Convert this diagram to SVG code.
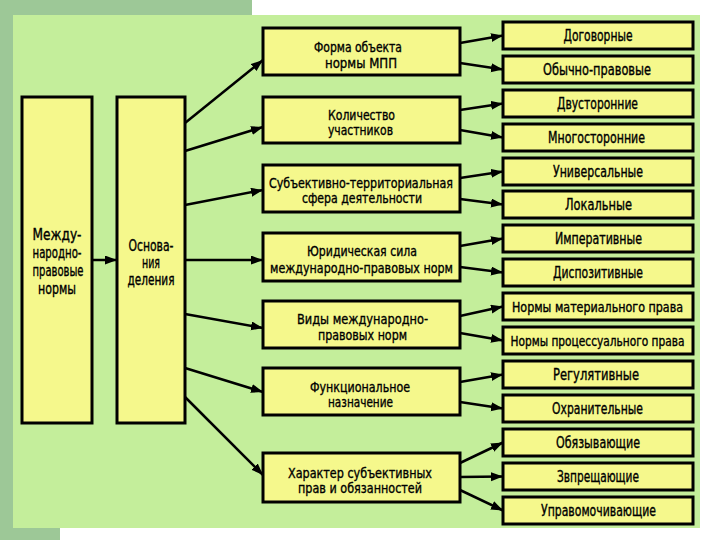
<svg xmlns="http://www.w3.org/2000/svg" width="720" height="540" viewBox="0 0 720 540">
<defs>
<marker id="ah" markerUnits="userSpaceOnUse" markerWidth="13" markerHeight="10" refX="12" refY="4.5" orient="auto">
<path d="M0,0 L12,4.5 L0,9 z" fill="#000"/>
</marker>
<style>
.box{fill:#f5f88c;stroke:#000;stroke-width:3}
.t{font-family:"DejaVu Sans Condensed","Liberation Sans Narrow","Liberation Sans",sans-serif;font-size:15px;fill:#000;stroke:#000;stroke-width:0.35;text-anchor:middle}
.tm{font-size:14.5px}
.tl{font-size:15px}
.ts{font-size:13.5px}
.c line{stroke:#000;stroke-width:2.5;marker-end:url(#ah)}
</style>
</defs>
<rect x="0" y="0" width="720" height="540" fill="#ffffff"/>
<rect x="0" y="0" width="252" height="15" fill="#9dc897"/>
<rect x="0" y="0" width="13" height="540" fill="#9dc897"/>
<rect x="0" y="528" width="60" height="12" fill="#9dc897"/>
<rect x="13" y="15" width="687" height="513" fill="#c4ee9b"/>

<g class="c">
<line x1="92" y1="260" x2="117" y2="260"/>
<line x1="185" y1="123" x2="263" y2="60"/>
<line x1="185" y1="151" x2="263" y2="127"/>
<line x1="185" y1="205" x2="263" y2="190"/>
<line x1="185" y1="260" x2="263" y2="260"/>
<line x1="185" y1="314" x2="263" y2="328"/>
<line x1="185" y1="368" x2="263" y2="392"/>
<line x1="185" y1="397" x2="263" y2="475"/>
<line x1="460" y1="43" x2="503" y2="35.5"/>
<line x1="460" y1="63" x2="503" y2="69.5"/>
<line x1="460" y1="110" x2="503" y2="103.5"/>
<line x1="460" y1="130" x2="503" y2="137.5"/>
<line x1="460" y1="178" x2="503" y2="171.5"/>
<line x1="460" y1="199" x2="503" y2="204.5"/>
<line x1="460" y1="246" x2="503" y2="238.5"/>
<line x1="460" y1="267" x2="503" y2="272.5"/>
<line x1="460" y1="316" x2="503" y2="306.5"/>
<line x1="460" y1="333" x2="503" y2="340.5"/>
<line x1="460" y1="382" x2="503" y2="374.5"/>
<line x1="460" y1="402" x2="503" y2="408.5"/>
<line x1="460" y1="463" x2="503" y2="442.5"/>
<line x1="460" y1="477" x2="503" y2="476.5"/>
<line x1="460" y1="490" x2="503" y2="510.5"/>
</g>

<g id="n-root">
<rect class="box" x="22" y="97" width="70" height="326"/>
<text class="t tl" x="57" y="240" textLength="49" lengthAdjust="spacingAndGlyphs">Между-</text>
<text class="t tl" x="57" y="258" textLength="49" lengthAdjust="spacingAndGlyphs">народно-</text>
<text class="t tl" x="58" y="276" textLength="51" lengthAdjust="spacingAndGlyphs">правовые</text>
<text class="t tl" x="57" y="294" textLength="38" lengthAdjust="spacingAndGlyphs">нормы</text>
</g>
<g id="n-base">
<rect class="box" x="117" y="97" width="68" height="326"/>
<text class="t tl" x="151" y="251" textLength="45" lengthAdjust="spacingAndGlyphs">Основа-</text>
<text class="t tl" x="151" y="268" textLength="18" lengthAdjust="spacingAndGlyphs">ния</text>
<text class="t tl" x="151" y="285" textLength="47" lengthAdjust="spacingAndGlyphs">деления</text>
</g>

<g id="m1">
<rect class="box" x="263" y="28" width="197" height="47"/>
<text class="t tm" x="358" y="52" textLength="88" lengthAdjust="spacingAndGlyphs">Форма объекта</text>
<text class="t tm" x="361" y="68" textLength="72" lengthAdjust="spacingAndGlyphs">нормы МПП</text>
</g>
<g id="m2">
<rect class="box" x="263" y="97" width="197" height="46"/>
<text class="t tm" x="361.5" y="120" textLength="67" lengthAdjust="spacingAndGlyphs">Количество</text>
<text class="t tm" x="360.5" y="135" textLength="65" lengthAdjust="spacingAndGlyphs">участников</text>
</g>
<g id="m3">
<rect class="box" x="263" y="165" width="197" height="47"/>
<text class="t tm" x="361" y="188" textLength="184" lengthAdjust="spacingAndGlyphs">Субъективно-территориальная</text>
<text class="t tm" x="362" y="203" textLength="120" lengthAdjust="spacingAndGlyphs">сфера деятельности</text>
</g>
<g id="m4">
<rect class="box" x="263" y="233" width="197" height="48"/>
<text class="t tm" x="362" y="256" textLength="110" lengthAdjust="spacingAndGlyphs">Юридическая сила</text>
<text class="t tm" x="361.5" y="273" textLength="183" lengthAdjust="spacingAndGlyphs">международно-правовых норм</text>
</g>
<g id="m5">
<rect class="box" x="263" y="301" width="197" height="47"/>
<text class="t tm" x="362.5" y="324" textLength="131" lengthAdjust="spacingAndGlyphs">Виды международно-</text>
<text class="t tm" x="362.5" y="340" textLength="89" lengthAdjust="spacingAndGlyphs">правовых норм</text>
</g>
<g id="m6">
<rect class="box" x="263" y="368" width="197" height="47"/>
<text class="t tm" x="360" y="392" textLength="100" lengthAdjust="spacingAndGlyphs">Функциональное</text>
<text class="t tm" x="360.5" y="407" textLength="65" lengthAdjust="spacingAndGlyphs">назначение</text>
</g>
<g id="m7">
<rect class="box" x="263" y="453" width="197" height="49"/>
<text class="t tm" x="360" y="478" textLength="144" lengthAdjust="spacingAndGlyphs">Характер субъективных</text>
<text class="t tm" x="360" y="493" textLength="124" lengthAdjust="spacingAndGlyphs">прав и обязанностей</text>
</g>

<g id="r1"><rect class="box" x="503" y="22" width="190" height="27"/><text class="t" x="598" y="41" textLength="69" lengthAdjust="spacingAndGlyphs">Договорные</text></g>
<g id="r2"><rect class="box" x="503" y="56" width="190" height="27"/><text class="t" x="597" y="75" textLength="108" lengthAdjust="spacingAndGlyphs">Обычно-правовые</text></g>
<g id="r3"><rect class="box" x="503" y="90" width="190" height="27"/><text class="t" x="597.5" y="109" textLength="81" lengthAdjust="spacingAndGlyphs">Двусторонние</text></g>
<g id="r4"><rect class="box" x="503" y="124" width="190" height="27"/><text class="t" x="596.5" y="143" textLength="97" lengthAdjust="spacingAndGlyphs">Многосторонние</text></g>
<g id="r5"><rect class="box" x="503" y="158" width="190" height="27"/><text class="t" x="598" y="177" textLength="90" lengthAdjust="spacingAndGlyphs">Универсальные</text></g>
<g id="r6"><rect class="box" x="503" y="191" width="190" height="27"/><text class="t" x="598.5" y="210" textLength="67" lengthAdjust="spacingAndGlyphs">Локальные</text></g>
<g id="r7"><rect class="box" x="503" y="225" width="190" height="27"/><text class="t" x="598.5" y="244" textLength="87" lengthAdjust="spacingAndGlyphs">Императивные</text></g>
<g id="r8"><rect class="box" x="503" y="259" width="190" height="27"/><text class="t" x="598" y="278" textLength="90" lengthAdjust="spacingAndGlyphs">Диспозитивные</text></g>
<g id="r9"><rect class="box" x="503" y="293" width="190" height="27"/><text class="t ts" x="597.5" y="312" textLength="171" lengthAdjust="spacingAndGlyphs">Нормы материального права</text></g>
<g id="r10"><rect class="box" x="503" y="327" width="190" height="27"/><text class="t ts" x="597.5" y="346" textLength="174" lengthAdjust="spacingAndGlyphs">Нормы процессуального права</text></g>
<g id="r11"><rect class="box" x="503" y="361" width="190" height="27"/><text class="t" x="596" y="380" textLength="86" lengthAdjust="spacingAndGlyphs">Регулятивные</text></g>
<g id="r12"><rect class="box" x="503" y="395" width="190" height="27"/><text class="t" x="597.5" y="414" textLength="91" lengthAdjust="spacingAndGlyphs">Охранительные</text></g>
<g id="r13"><rect class="box" x="503" y="429" width="190" height="27"/><text class="t" x="598" y="448" textLength="84" lengthAdjust="spacingAndGlyphs">Обязывающие</text></g>
<g id="r14"><rect class="box" x="503" y="463" width="190" height="27"/><text class="t" x="598" y="482" textLength="82" lengthAdjust="spacingAndGlyphs">Звпрещающие</text></g>
<g id="r15"><rect class="box" x="503" y="497" width="190" height="27"/><text class="t" x="598.5" y="516" textLength="115" lengthAdjust="spacingAndGlyphs">Управомочивающие</text></g>
</svg>
